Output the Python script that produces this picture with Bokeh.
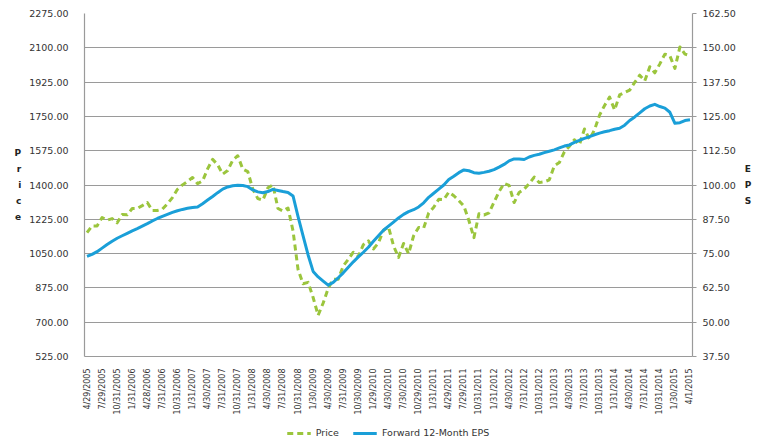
import math
from bokeh.plotting import figure
from bokeh.layouts import column
from bokeh.models import (Range1d, LinearAxis, FixedTicker, NumeralTickFormatter,
                          Legend, LegendItem)
from bokeh.embed import file_html
from bokeh.resources import INLINE

# ---- data (monthly, Apr 2005 .. Apr 1 2015) ----
tick_labels = [
    "4/29/2005", "7/29/2005", "10/31/2005", "1/31/2006", "4/28/2006", "7/31/2006",
    "10/31/2006", "1/31/2007", "4/30/2007", "7/31/2007", "10/31/2007", "1/31/2008",
    "4/30/2008", "7/31/2008", "10/31/2008", "1/30/2009", "4/30/2009", "7/31/2009",
    "10/30/2009", "1/29/2010", "4/30/2010", "7/30/2010", "10/29/2010", "1/31/2011",
    "4/29/2011", "7/29/2011", "10/31/2011", "1/31/2012", "4/30/2012", "7/31/2012",
    "10/31/2012", "1/31/2013", "4/30/2013", "7/31/2013", "10/31/2013", "1/31/2014",
    "4/30/2014", "7/31/2014", "10/31/2014", "1/30/2015", "4/1/2015",
]

price = [
    1156.85, 1191.50, 1191.33, 1234.18, 1220.33, 1228.81, 1207.01, 1249.48, 1248.29,
    1280.08, 1280.66, 1294.83, 1310.61, 1270.09, 1270.20, 1276.66, 1303.82, 1335.85, 1377.94, 1400.63, 1418.30,
    1438.24, 1406.82, 1420.86, 1482.37, 1530.62, 1503.35, 1455.27, 1473.99, 1526.75, 1549.38, 1481.14, 1468.36,
    1378.55, 1330.63, 1322.70, 1385.59, 1400.38, 1280.00, 1267.38, 1282.83, 1166.36, 968.75, 896.24, 903.25,
    825.88, 735.09, 797.87, 872.81, 919.14, 919.32, 987.48, 1020.62, 1057.08, 1036.19, 1095.63, 1115.10,
    1073.87, 1104.49, 1169.43, 1186.69, 1089.41, 1030.71, 1101.60, 1049.33, 1141.20, 1183.26, 1180.55, 1257.64,
    1286.12, 1327.22, 1325.83, 1363.61, 1345.20, 1320.64, 1292.28, 1218.89, 1131.42, 1253.30, 1246.96, 1257.60,
    1312.41, 1365.68, 1408.47, 1397.91, 1310.33, 1362.16, 1379.32, 1406.58, 1440.67, 1412.16, 1416.18, 1426.19,
    1498.11, 1514.68, 1569.19, 1597.57, 1630.74, 1606.28, 1685.73, 1632.97, 1681.55, 1756.54, 1805.81, 1848.36,
    1782.59, 1859.45, 1872.34, 1883.95, 1923.57, 1960.23, 1930.67, 2003.37, 1972.29, 2018.05, 2067.56, 2058.90,
    1994.99, 2104.50, 2067.89, 2059.69,
]

eps = [
    74.0, 74.7, 75.7, 77.0, 78.3, 79.5, 80.6, 81.5, 82.4,
    83.3, 84.1, 85.0, 85.9, 86.9, 87.8, 88.6, 89.3, 90.0, 90.6, 91.1, 91.5,
    91.8, 92.0, 93.2, 94.5, 95.8, 97.2, 98.5, 99.3, 99.7, 99.9, 99.8, 99.4,
    98.2, 97.5, 97.2, 97.6, 98.4, 98.0, 97.6, 97.3, 96.0, 88.5, 81.5, 74.5,
    68.5, 66.5, 65.0, 63.5, 64.5, 66.2, 68.0, 70.0, 72.0, 73.8, 75.5, 77.3,
    79.5, 81.5, 83.5, 85.0, 86.5, 88.0, 89.3, 90.3, 91.0, 92.0, 93.5, 95.5,
    97.0, 98.5, 100.0, 102.0, 103.2, 104.5, 105.5, 105.2, 104.5, 104.3, 104.6, 105.0,
    105.6, 106.5, 107.5, 108.8, 109.5, 109.5, 109.3, 110.2, 110.8, 111.2, 111.8, 112.3,
    112.8, 113.5, 114.2, 114.6, 115.5, 116.3, 117.0, 117.6, 118.3, 118.9, 119.4, 119.8,
    120.3, 120.7, 121.8, 123.5, 124.8, 126.3, 127.8, 128.8, 129.4, 128.6, 128.0, 126.5,
    122.5, 122.7, 123.5, 123.8,
]

x = list(range(len(price)))
tick_positions = list(range(0, len(price), 3))

GREEN = "#9BC53D"
BLUE = "#1A9FD8"
GRID = "#9a9a9a"
TXT = "#333333"
FONT = "DejaVu Sans"

p = figure(width=770, height=420, output_backend="svg", toolbar_location=None,
           x_range=Range1d(-0.5, len(price) - 0.5), y_range=Range1d(525, 2275),
           min_border_left=84, min_border_right=78, min_border_top=13, min_border_bottom=64)
p.outline_line_color = None
p.background_fill_color = "white"
p.border_fill_color = "white"

p.extra_y_ranges = {"eps": Range1d(37.5, 162.5)}

# left axis
yax = p.yaxis[0]
yax.ticker = FixedTicker(ticks=[525 + 175 * i for i in range(11)])
yax.formatter = NumeralTickFormatter(format="0.00")
yax.axis_line_color = GRID
yax.axis_line_width = 1.2
yax.major_tick_line_color = None
yax.minor_tick_line_color = None
yax.major_label_text_font = FONT
yax.major_label_text_font_size = "9.5px"
yax.major_label_text_color = TXT
yax.major_label_standoff = 10
yax.axis_label = "P\nr\ni\nc\ne"
yax.axis_label_orientation = "horizontal"
yax.axis_label_text_font = FONT
yax.axis_label_text_font_size = "9px"
yax.axis_label_text_font_style = "bold"
yax.axis_label_text_color = "#222222"
yax.axis_label_text_line_height = 1.6
yax.axis_label_standoff = 5

# right axis
rax = LinearAxis(y_range_name="eps")
rax.ticker = FixedTicker(ticks=[37.5 + 12.5 * i for i in range(11)])
rax.formatter = NumeralTickFormatter(format="0.00")
rax.axis_line_color = GRID
rax.axis_line_width = 1.2
rax.major_tick_line_color = GRID
rax.major_tick_out = 4
rax.major_tick_in = 0
rax.minor_tick_line_color = None
rax.major_label_text_font = FONT
rax.major_label_text_font_size = "9.5px"
rax.major_label_text_color = TXT
rax.major_label_standoff = 6
rax.axis_label = "E\nP\nS"
rax.axis_label_orientation = "horizontal"
rax.axis_label_text_font = FONT
rax.axis_label_text_font_size = "9px"
rax.axis_label_text_font_style = "bold"
rax.axis_label_text_color = "#222222"
rax.axis_label_text_line_height = 1.6
rax.axis_label_standoff = 6
p.add_layout(rax, "right")

# x axis
xax = p.xaxis[0]
xax.ticker = FixedTicker(ticks=tick_positions)
xax.major_label_overrides = {t: lab for t, lab in zip(tick_positions, tick_labels)}
xax.major_label_orientation = math.pi / 2
xax.major_label_text_font = FONT
xax.major_label_text_font_size = "8px"
xax.major_label_text_color = TXT
xax.major_label_standoff = 6
xax.axis_line_color = GRID
xax.axis_line_width = 1.2
xax.major_tick_line_color = None
xax.minor_tick_line_color = None

p.xgrid.grid_line_color = None
p.ygrid.grid_line_color = GRID
p.ygrid.grid_line_width = 1.2
p.ygrid.ticker = FixedTicker(ticks=[525 + 175 * i for i in range(11)])

p.line(x, price, line_color=GREEN, line_width=3, line_dash="6 4", line_join="round")
p.line(x, eps, line_color=BLUE, line_width=3, y_range_name="eps", line_join="round")

# legend strip below the chart (its sample lines lie outside the visible range)
lg = figure(width=770, height=25, output_backend="svg", toolbar_location=None,
            x_axis_type=None, y_axis_type=None,
            x_range=Range1d(0, 1), y_range=Range1d(0, 1),
            min_border_left=0, min_border_right=0, min_border_top=0, min_border_bottom=0)
lg.outline_line_color = None
lg.xgrid.grid_line_color = None
lg.ygrid.grid_line_color = None
lp = lg.line([-10, -9], [-10, -9], line_color=GREEN, line_width=3, line_dash="6 4")
le = lg.line([-10, -9], [-10, -9], line_color=BLUE, line_width=3)
legend = Legend(items=[LegendItem(label="Price", renderers=[lp]),
                       LegendItem(label="Forward 12-Month EPS", renderers=[le])],
                orientation="horizontal", location="center")
legend.label_text_font = FONT
legend.label_text_font_size = "9.5px"
legend.label_text_color = TXT
legend.border_line_color = None
legend.background_fill_alpha = 0
legend.glyph_width = 24
legend.spacing = 14
legend.margin = 0
legend.padding = 2
lg.add_layout(legend, "center")

layout = column(p, lg, spacing=0)
open("out.html", "w").write(file_html(layout, INLINE))
